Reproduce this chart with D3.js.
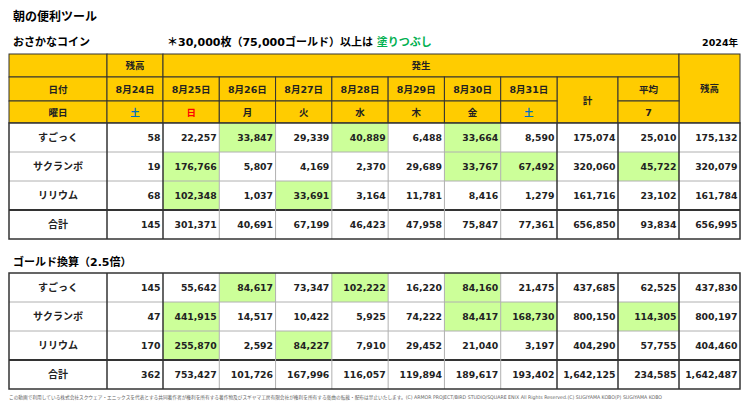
<!DOCTYPE html>
<html>
<head>
<meta charset="utf-8">
<script src="https://cdn.jsdelivr.net/npm/d3@7"></script>
<style>
  body { margin: 0; background: #fff; }
  svg { display: block; }
  text { font-family: "DejaVu Sans", "Noto Sans CJK JP", sans-serif; font-weight: bold; }
</style>
</head>
<body>
<svg id="chart"></svg>
<script>
// data
var dates = ["8月25日", "8月26日", "8月27日", "8月28日", "8月29日", "8月30日", "8月31日"];
var weekdays = ["日", "月", "火", "水", "木", "金", "土"];
var items = ["すごっく", "サクランボ", "リリウム"];

var coinStart = [58, 19, 68];
var coinDaily = [
  [22257, 33847, 29339, 40889, 6488, 33664, 8590],
  [176766, 5807, 4169, 2370, 29689, 33767, 67492],
  [102348, 1037, 33691, 3164, 11781, 8416, 1279]
];
var coinTotal = [175074, 320060, 161716];
var coinAvg = [25010, 45722, 23102];
var coinEnd = [175132, 320079, 161784];

var goldStart = [145, 47, 170];
var goldDaily = [
  [55642, 84617, 73347, 102222, 16220, 84160, 21475],
  [441915, 14517, 10422, 5925, 74222, 84417, 168730],
  [255870, 2592, 84227, 7910, 29452, 21040, 3197]
];
var goldTotal = [437685, 800150, 404290];
var goldAvg = [62525, 114305, 57755];
var goldEnd = [437830, 800197, 404460];

var coinLimit = 30000, goldLimit = 75000;

var width = 750, height = 416;
var svg = d3.select("#chart").attr("width", width).attr("height", height);

var yellow = "#ffcc00", green = "#ccff99", dark = "#333", grey = "#b0b0b0";
var fmt = d3.format(",");

// columns
var xDay = d3.scaleBand().domain(dates).range([163, 557]);
var cols = [{key: "label", x0: 9, x1: 107}, {key: "start", x0: 107, x1: 163}];
dates.forEach(function(d, i) {
  cols.push({key: "d" + i, x0: xDay(d), x1: xDay(d) + xDay.bandwidth()});
});
cols.push({key: "total", x0: 557, x1: 618}, {key: "avg", x0: 618, x1: 679}, {key: "end", x0: 679, x1: 740});
var majorX = [107, 163, 557, 618, 679];

// titles
svg.append("text").attr("x", 13).attr("y", 21).attr("font-size", 12).text("朝の便利ツール");
svg.append("text").attr("x", 13).attr("y", 46).attr("font-size", 11).text("おさかなコイン");
var note = svg.append("text").attr("x", 167).attr("y", 46).attr("font-size", 11);
note.append("tspan").text("＊30,000枚（75,000ゴールド）以上は ");
note.append("tspan").attr("fill", "#00b050").text("塗りつぶし");
svg.append("text").attr("x", 738).attr("y", 46).attr("font-size", 9.5).attr("text-anchor", "end").text("2024年");
svg.append("text").attr("x", 13).attr("y", 266).attr("font-size", 11).text("ゴールド換算（2.5倍）");

// header
var header = svg.append("g");
var hy = [54, 77, 101, 123];
var hcells = [
  {x0: 9, x1: 107, r0: 0, r1: 1, t: ""},
  {x0: 107, x1: 163, r0: 0, r1: 1, t: "残高"},
  {x0: 163, x1: 679, r0: 0, r1: 1, t: "発生"},
  {x0: 679, x1: 740, r0: 0, r1: 3, t: "残高"},
  {x0: 9, x1: 107, r0: 1, r1: 2, t: "日付"},
  {x0: 107, x1: 163, r0: 1, r1: 2, t: "8月24日"},
  {x0: 9, x1: 107, r0: 2, r1: 3, t: "曜日"},
  {x0: 107, x1: 163, r0: 2, r1: 3, t: "土", c: "#0070c0"},
  {x0: 557, x1: 618, r0: 1, r1: 3, t: "計"},
  {x0: 618, x1: 679, r0: 1, r1: 2, t: "平均"},
  {x0: 618, x1: 679, r0: 2, r1: 3, t: "7"}
];
dates.forEach(function(d, i) {
  var wd = weekdays[i];
  hcells.push({x0: xDay(d), x1: xDay(d) + xDay.bandwidth(), r0: 1, r1: 2, t: d});
  hcells.push({x0: xDay(d), x1: xDay(d) + xDay.bandwidth(), r0: 2, r1: 3, t: wd,
    c: wd == "日" ? "#ff0000" : (wd == "土" ? "#0070c0" : "#222")});
});
header.selectAll("rect").data(hcells).join("rect")
  .attr("x", d => d.x0).attr("y", d => hy[d.r0])
  .attr("width", d => d.x1 - d.x0).attr("height", d => hy[d.r1] - hy[d.r0])
  .attr("fill", yellow).attr("stroke", dark).attr("stroke-width", 1);
header.selectAll("text").data(hcells).join("text")
  .attr("x", d => (d.x0 + d.x1) / 2).attr("y", d => (hy[d.r0] + hy[d.r1]) / 2 + 3.5)
  .attr("text-anchor", "middle").attr("font-size", 9.5)
  .attr("fill", d => d.c || "#222").text(d => d.t);

// body tables
function drawBody(top, start, daily, total, avg, end, limit) {
  var labels = items.concat(["合計"]);
  var y = d3.scaleBand().domain(labels).range([top, top + 116]);
  var rows = items.map(function(name, i) {
    return {label: name, vals: [start[i]].concat(daily[i], [total[i], avg[i], end[i]])};
  });
  var sumVals = rows[0].vals.map(function(v, j) { return d3.sum(rows, r => r.vals[j]); });
  rows.push({label: "合計", vals: sumVals, sum: true});

  var cells = [];
  rows.forEach(function(r) {
    cols.forEach(function(c, j) {
      var v = j == 0 ? null : r.vals[j - 1];
      var hi = !r.sum && v != null && (c.key[0] == "d" || c.key == "avg") && v >= limit;
      cells.push({row: r.label, c: c, v: v, hi: hi, text: j == 0 ? r.label : fmt(v)});
    });
  });

  var g = svg.append("g");
  g.selectAll("rect").data(cells).join("rect")
    .attr("x", d => d.c.x0).attr("y", d => y(d.row))
    .attr("width", d => d.c.x1 - d.c.x0).attr("height", y.bandwidth())
    .attr("fill", d => d.hi ? green : "#fff");

  // grid
  labels.slice(1).forEach(function(l) {
    g.append("line").attr("x1", 9).attr("x2", 740).attr("y1", y(l)).attr("y2", y(l))
      .attr("stroke", l == "合計" ? dark : grey).attr("stroke-width", l == "合計" ? 2 : 1);
  });
  cols.slice(1).forEach(function(c) {
    var major = majorX.indexOf(c.x0) >= 0;
    g.append("line").attr("x1", c.x0).attr("x2", c.x0).attr("y1", top).attr("y2", top + 116)
      .attr("stroke", major ? dark : grey).attr("stroke-width", major ? 1.5 : 1);
  });
  g.append("rect").attr("x", 9).attr("y", top).attr("width", 731).attr("height", 116)
    .attr("fill", "none").attr("stroke", dark).attr("stroke-width", 1.5);

  g.selectAll("text.cell").data(cells).join("text").attr("class", "cell")
    .attr("x", d => d.c.key == "label" ? (d.c.x0 + d.c.x1) / 2 : d.c.x1 - 2.5)
    .attr("y", d => y(d.row) + y.bandwidth() / 2 + 3.5)
    .attr("text-anchor", d => d.c.key == "label" ? "middle" : "end")
    .attr("font-size", d => d.c.key == "label" ? 10 : 9.3)
    .attr("fill", "#222").text(d => d.text);
}

drawBody(123, coinStart, coinDaily, coinTotal, coinAvg, coinEnd, coinLimit);
drawBody(273, goldStart, goldDaily, goldTotal, goldAvg, goldEnd, goldLimit);

// footnote
svg.append("text").attr("x", 9).attr("y", 399).attr("font-size", 5).attr("fill", "#666")
  .style("font-weight", "normal")
  .attr("textLength", 653).attr("lengthAdjust", "spacingAndGlyphs")
  .text("この動画で利用している株式会社スクウェア・エニックスを代表とする共同著作者が権利を所有する著作物及びスギヤマ工房有限会社が権利を所有する楽曲の転載・配布は禁止いたします。(C) ARMOR PROJECT/BIRD STUDIO/SQUARE ENIX All Rights Reserved.(C) SUGIYAMA KOBO(P) SUGIYAMA KOBO");
</script>
</body>
</html>
